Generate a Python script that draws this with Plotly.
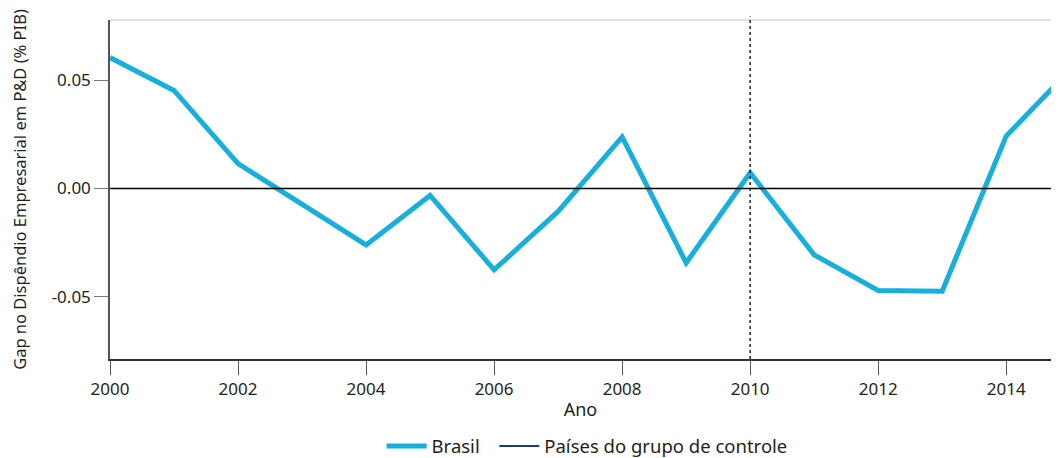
import plotly.graph_objects as go

years = [2000, 2001, 2002, 2003, 2004, 2005, 2006, 2007, 2008, 2009, 2010, 2011, 2012, 2013, 2014, 2015]
brasil = [0.0606, 0.0454, 0.0115, -0.0073, -0.0261, -0.0032, -0.0376, -0.0106, 0.0239, -0.0344,
          0.0073, -0.0307, -0.0472, -0.0475, 0.0243, 0.055]
x_ticks = [2000, 2002, 2004, 2006, 2008, 2010, 2012, 2014]
y_ticks = [-0.05, 0.0, 0.05]
y_tick_labels = ["-0.05", "0.00", "0.05"]
treat_year = 2010

FONT = "Noto Sans"
NBSP = "\u00a0"

fig = go.Figure()
fig.add_trace(go.Scatter(x=years, y=brasil, mode="lines", name="Brasil" + NBSP * 2,
                         line=dict(color="#17b0dc", width=5)))
fig.add_trace(go.Scatter(x=[None], y=[None], mode="lines", name="Países do grupo de controle",
                         line=dict(color="#1f3a78", width=2)))

fig.add_shape(type="line", xref="paper", yref="y", x0=0, x1=1, y0=0, y1=0,
              line=dict(color="#000000", width=1.4))
fig.add_shape(type="line", xref="paper", yref="paper", x0=0, x1=1, y0=1, y1=1,
              line=dict(color="#c8c8c8", width=1.2))
fig.add_shape(type="line", xref="x", yref="paper", x0=treat_year, x1=treat_year, y0=0, y1=1.01,
              line=dict(color="#222222", width=1.5, dash="dot"))

fig.update_layout(
    width=1043, height=458,
    margin=dict(l=102, r=0, t=12, b=104),
    plot_bgcolor="white", paper_bgcolor="white",
    font=dict(family=FONT, size=17, color="#231f20"),
    showlegend=True,
    legend=dict(orientation="h", x=0.507, xanchor="center", y=-0.258, yanchor="middle",
                font=dict(size=18.5), itemwidth=40, tracegroupgap=0),
    xaxis=dict(range=[2000, 2014.70], tickvals=x_ticks, ticks="outside", ticklen=14,
               tickcolor="#555555", showgrid=False, zeroline=False, showline=True,
               linecolor="#333333", linewidth=1.5, tickfont=dict(size=17),
               title=dict(text="Ano", standoff=4, font=dict(size=18))),
    yaxis=dict(range=[-0.0789, 0.078], tickvals=y_ticks, ticktext=y_tick_labels,
               ticks="outside", ticklen=14, tickcolor="#777777", showgrid=False,
               zeroline=False, showline=True, linecolor="#555555", linewidth=1.5,
               tickfont=dict(size=17),
               title=dict(text="Gap no Dispêndio Empresarial em P&D (% PIB)", standoff=22,
                          font=dict(size=16.5))),
)

fig.write_html("out.html")
